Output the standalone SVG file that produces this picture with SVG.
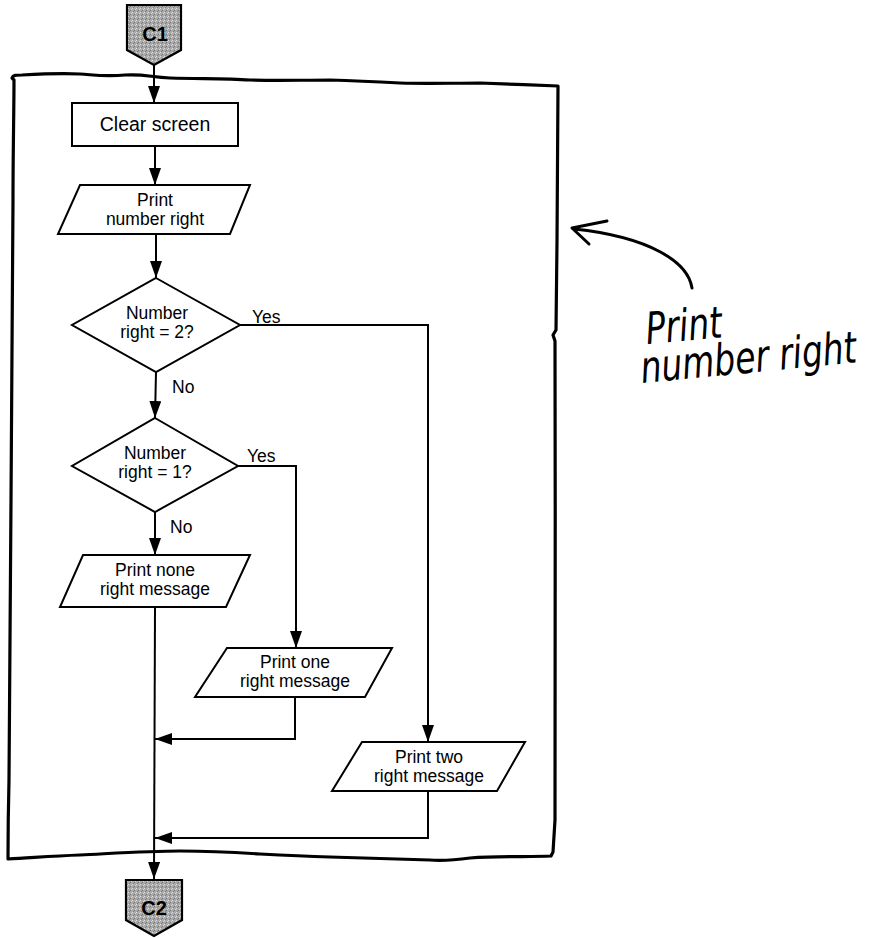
<svg xmlns="http://www.w3.org/2000/svg" width="872" height="938" viewBox="0 0 872 938">
  <style>
    .shape { fill: #fff; stroke: #000; stroke-width: 2; stroke-linejoin: miter; }
    .wire { fill: none; stroke: #000; stroke-width: 2; }
    .lbl { font-family: "Liberation Sans", Arial, sans-serif; font-size: 17.5px; fill: #000; text-anchor: middle; }
    .tag { font-family: "Liberation Sans", Arial, sans-serif; font-size: 17.5px; fill: #000; }
    .conn { stroke: #000; stroke-width: 2.2; fill: url(#stipple); }
    .conn-txt { font-family: "Liberation Sans", Arial, sans-serif; font-weight: bold; font-size: 20px; fill: #000; text-anchor: middle; }
    .hand { fill: none; stroke: #000; stroke-width: 3; stroke-linecap: round; stroke-linejoin: round; }
    .hand-txt { font-family: "DejaVu Sans", "Liberation Sans", sans-serif; font-style: oblique; font-weight: 300; font-size: 44px; fill: #000; }
  </style>
  <defs>
    <marker id="arrow" markerUnits="userSpaceOnUse" markerWidth="18" markerHeight="12" refX="17" refY="6" orient="auto">
      <path d="M0,0 L17,6 L0,12 Z" fill="#000"/>
    </marker>
    <pattern id="stipple" width="4" height="4" patternUnits="userSpaceOnUse">
      <rect width="4" height="4" fill="#a9a9a9"/>
      <rect x="0" y="0" width="1" height="1" fill="#e0e0e0"/>
      <rect x="2" y="2" width="1" height="1" fill="#707070"/>
      <rect x="3" y="1" width="1" height="1" fill="#d4d4d4"/>
      <rect x="1" y="3" width="1" height="1" fill="#808080"/>
    </pattern>
  </defs>

  <rect width="872" height="938" fill="#fff"/>

  <!-- hand-drawn module boundary -->
  <path id="frame" fill="none" stroke="#000" stroke-width="3.2" stroke-linejoin="round"
        d="M12,78 C13,75 16,75 22,75 C40,74 60,73 80,74 C95,75 105,77 125,75 C145,74 150,77 170,78
           C200,79 225,78 250,80 C280,81 300,80 330,80 C360,81 380,82 400,83 C430,84 450,83 480,83
           C510,84 530,85 558,86
           C558,150 557,250 556,330 L553,335 L555,341 C555,500 556,700 555,820 L553,852 L551,856
           C530,857 500,856 470,858 C455,860 445,861 430,860 C400,859 360,858 330,857
           C300,856 280,855 260,854 C230,852 210,851 180,851 C150,851 120,853 80,855
           C50,856 30,858 8,859
           C8,840 8,820 9,780 C10,700 10,600 11,500 C12,400 12,300 13,200 C13,150 14,110 14,80 Z"/>

  <!-- connectors -->
  <g id="connectors">
    <line class="wire" x1="154" y1="65" x2="154" y2="103" marker-end="url(#arrow)"/>
    <line class="wire" x1="155" y1="146" x2="155" y2="185" marker-end="url(#arrow)"/>
    <line class="wire" x1="156" y1="234" x2="156" y2="278" marker-end="url(#arrow)"/>
    <line class="wire" x1="156" y1="372" x2="155" y2="418" marker-end="url(#arrow)"/>
    <line class="wire" x1="155" y1="512" x2="155" y2="555" marker-end="url(#arrow)"/>
    <line class="wire" x1="155" y1="607" x2="154" y2="879" marker-end="url(#arrow)"/>
    <polyline class="wire" points="240,325 428,325 428,742" marker-end="url(#arrow)"/>
    <polyline class="wire" points="237,466 296,466 296,648" marker-end="url(#arrow)"/>
    <polyline class="wire" points="295,697 295,739 155,739" marker-end="url(#arrow)"/>
    <polyline class="wire" points="428,791 428,838 155,838" marker-end="url(#arrow)"/>
    <text class="tag" x="252" y="323">Yes</text>
    <text class="tag" x="172" y="393">No</text>
    <text class="tag" x="247" y="462">Yes</text>
    <text class="tag" x="170" y="533">No</text>
  </g>

  <!-- off-page connectors -->
  <g id="c1">
    <path class="conn" d="M127,5 L181,5 L181,50 L154,65 L127,50 Z"/>
    <text class="conn-txt" x="155" y="41">C1</text>
  </g>
  <g id="c2">
    <path class="conn" d="M126,880 L182,880 L182,920 L154,936 L126,920 Z"/>
    <text class="conn-txt" x="154" y="915">C2</text>
  </g>

  <g id="clear-screen">
    <rect class="shape" x="72" y="103" width="166" height="43"/>
    <text class="lbl" x="155" y="131" style="font-size:19.5px">Clear screen</text>
  </g>

  <g id="print-number-right">
    <polygon class="shape" points="80,185 250,185 230,234 58,234"/>
    <text class="lbl" x="155" y="206">Print</text>
    <text class="lbl" x="155" y="225">number right</text>
  </g>

  <g id="decision-two">
    <polygon class="shape" points="156,278 240,325 156,372 72,325"/>
    <text class="lbl" x="157" y="319">Number</text>
    <text class="lbl" x="157" y="338">right = 2?</text>
  </g>

  <g id="decision-one">
    <polygon class="shape" points="155,418 238,466 155,512 72,466"/>
    <text class="lbl" x="155" y="459">Number</text>
    <text class="lbl" x="155" y="478">right = 1?</text>
  </g>

  <g id="print-none">
    <polygon class="shape" points="83,555 250,555 226,607 60,607"/>
    <text class="lbl" x="155" y="576">Print none</text>
    <text class="lbl" x="155" y="595">right message</text>
  </g>

  <g id="print-one">
    <polygon class="shape" points="227,648 392,648 365,697 195,697"/>
    <text class="lbl" x="295" y="668">Print one</text>
    <text class="lbl" x="295" y="687">right message</text>
  </g>

  <g id="print-two">
    <polygon class="shape" points="362,742 525,742 497,791 332,791"/>
    <text class="lbl" x="429" y="763">Print two</text>
    <text class="lbl" x="429" y="782">right message</text>
  </g>

  <!-- handwritten note -->
  <g id="note">
    <path class="hand" d="M692,288 C688,262 650,237 574,229"/>
    <path class="hand" d="M607,221 L572,228 L589,244"/>
    <text class="hand-txt" transform="translate(647,344) rotate(-5) scale(0.75,1)">Print</text>
    <text class="hand-txt" transform="translate(642,383) rotate(-5.5) scale(0.75,1)">number right</text>
  </g>
</svg>
